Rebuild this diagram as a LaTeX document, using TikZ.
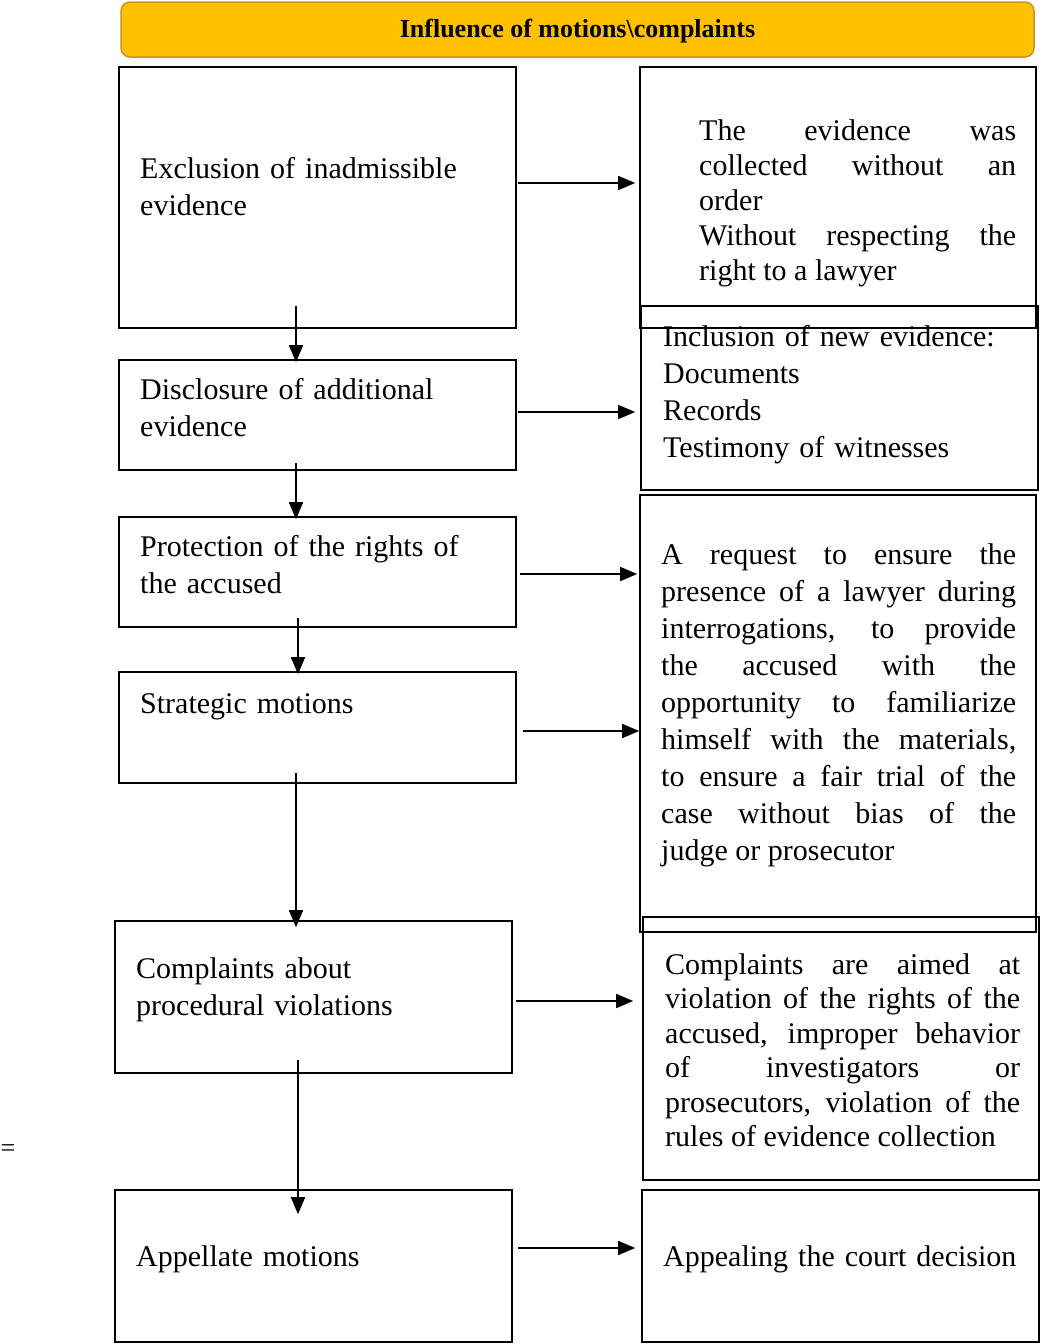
\documentclass[tikz,border=0pt]{standalone}
\usepackage{fontspec}
\setmainfont{Liberation Serif}
\usetikzlibrary{arrows.meta}
\definecolor{headgold}{HTML}{FFC000}
\definecolor{headedge}{HTML}{C8961E}
\begin{document}
\begin{tikzpicture}[x=1pt, y=-1pt,
    box/.style={draw, line width=1.6pt, inner sep=0pt},
    lefttxt/.style={anchor=base west, inner sep=0pt, text width=360pt, align=left, font=\fontsize{30}{37.5}\selectfont},
    righttxt/.style={anchor=base west, inner sep=0pt, text width=355pt, align=justify, font=\fontsize{30}{37}\selectfont},
    arr/.style={line width=1.6pt, -{Triangle[length=17pt, width=14pt]}}]
    \useasboundingbox (0,0) rectangle (1039,1344); % Page
    \node[draw=headedge, fill=headgold, line width=1.5pt, rounded corners=9pt, minimum width=913pt, minimum height=55pt, text height=20pt, text depth=4pt, font=\bfseries\fontsize{26}{26}\selectfont] (head) at (577.5,29.5) {Influence of motions\textbackslash complaints}; % Title bar
    % left column
    \node[box, minimum width=397pt, minimum height=261pt] (exclB) at (317.5,197.5) {};
    \node[box, minimum width=397pt, minimum height=110pt] (discB) at (317.5,415) {};
    \node[box, minimum width=397pt, minimum height=110pt] (protB) at (317.5,572) {};
    \node[box, minimum width=397pt, minimum height=111pt] (stratB) at (317.5,727.5) {};
    \node[box, minimum width=397pt, minimum height=152pt] (complB) at (313.5,997) {};
    \node[box, minimum width=397pt, minimum height=152pt] (appB) at (313.5,1266) {};
    \node[lefttxt] (exclT) at (140,178) {Exclusion of inadmissible\\evidence};
    \node[lefttxt] (discT) at (140,399) {Disclosure of additional\\evidence};
    \node[lefttxt] (protT) at (140,556) {Protection of the rights of\\the accused};
    \node[lefttxt] (stratT) at (140,713) {Strategic motions};
    \node[lefttxt] (complT) at (136,978) {Complaints about\\procedural violations};
    \node[lefttxt] (appT) at (136,1266) {Appellate motions};
    % right column
    \node[box, minimum width=396pt, minimum height=261pt] (evidR) at (838,197.5) {};
    \node[box, minimum width=397pt, minimum height=184pt] (newR) at (839.5,398) {};
    \node[box, minimum width=396pt, minimum height=437pt] (reqR) at (838,713.5) {};
    \node[box, minimum width=396pt, minimum height=263pt] (violR) at (841,1048.5) {};
    \node[box, minimum width=397pt, minimum height=152pt] (courtR) at (840.5,1266) {};
    \node[righttxt, text width=317pt, font=\fontsize{30}{35}\selectfont] (evidT) at (699,140) {The evidence was\linebreak collected without an\linebreak order\\Without respecting the\linebreak right to a lawyer};
    \node[lefttxt, font=\fontsize{30}{37}\selectfont] (newT) at (663,346) {Inclusion of new evidence:\\Documents\\Records\\Testimony of witnesses};
    \node[righttxt] (reqT) at (661,564) {A request to ensure the\linebreak presence of a lawyer during\linebreak interrogations, to provide\linebreak the accused with the\linebreak opportunity to familiarize\linebreak himself with the materials,\linebreak to ensure a fair trial of the\linebreak case without bias of the\linebreak judge or prosecutor};
    \node[righttxt, font=\fontsize{30}{34.5}\selectfont] (violT) at (665,974) {Complaints are aimed at\linebreak violation of the rights of the\linebreak accused, improper behavior\linebreak of investigators or\linebreak prosecutors, violation of the\linebreak rules of evidence collection};
    \node[lefttxt] (courtT) at (663,1266) {Appealing the court decision};
    \node[font=\fontsize{26}{26}\selectfont] (eq) at (8,1151) {=}; % Stray mark
    % horizontal arrows
    \coordinate (h1) at (518,183);
    \coordinate (h2) at (518,412);
    \coordinate (h3) at (520,574);
    \coordinate (h4) at (523,731);
    \coordinate (h5) at (516,1001);
    \coordinate (h6) at (518,1248);
    \draw[arr, shorten >=4pt] (h1) -- (h1 -| evidR.west);
    \draw[arr, shorten >=5pt] (h2) -- (h2 -| newR.west);
    \draw[arr, shorten >=2pt] (h3) -- (h3 -| reqR.west);
    \draw[arr] (h4) -- (h4 -| reqR.west);
    \draw[arr, shorten >=9pt] (h5) -- (h5 -| violR.west);
    \draw[arr, shorten >=6pt] (h6) -- (h6 -| courtR.west);
    % vertical arrows
    \coordinate (v1) at (296,306);
    \coordinate (v2) at (296,463);
    \coordinate (v3) at (298,618);
    \coordinate (v4) at (296,773);
    \coordinate (v5) at (298,1060);
    \draw[arr, shorten >=-3pt] (v1) -- (v1 |- discB.north);
    \draw[arr, shorten >=-3pt] (v2) -- (v2 |- protB.north);
    \draw[arr, shorten >=-3pt] (v3) -- (v3 |- stratB.north);
    \draw[arr, shorten >=-7pt] (v4) -- (v4 |- complB.north);
    \draw[arr, shorten >=-25pt] (v5) -- (v5 |- appB.north);
\end{tikzpicture}
\end{document}
